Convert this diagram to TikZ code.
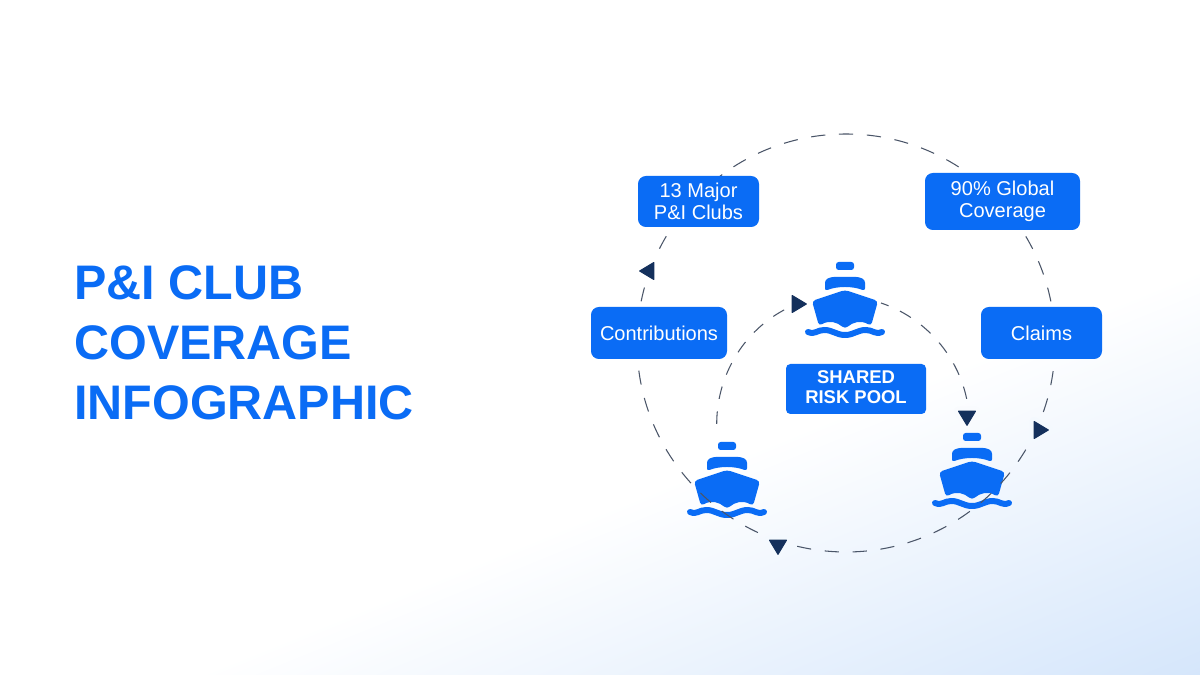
\documentclass[tikz,border=0pt]{standalone}
\usepackage{fontspec}
\usepackage{xcolor}
\setmainfont{Liberation Sans}
\usetikzlibrary{shapes.geometric}
\definecolor{clubblue}{HTML}{0A6CF5}
\definecolor{tipnavy}{HTML}{14305C}
\definecolor{ringgrey}{HTML}{4A5568}
\definecolor{washblue}{HTML}{D5E6FB}
\tikzset{
  clubbox/.style={fill=clubblue,text=white,rounded corners=4.5pt,align=center,inner sep=0pt,
    font=\fontsize{11.4}{12.2}\selectfont},
  poolbox/.style={fill=clubblue,text=white,rounded corners=2.5pt,align=center,inner sep=0pt,text depth=2.2pt,
    minimum width=140*0.02cm,minimum height=50*0.02cm,font=\fontsize{10.5}{11.6}\selectfont\bfseries},
  titletext/.style={text=clubblue,align=left,anchor=west,inner sep=0pt,
    font=\fontsize{27.6}{34.2}\selectfont\bfseries},
  ringline/.style={draw=ringgrey,line width=0.6pt,dash pattern=on 8.08pt off 7.82pt,dash phase=8pt},
  innerline/.style={draw=ringgrey,line width=0.6pt,dash pattern=on 7.2pt off 7.2pt},
  ringtip/.style={isosceles triangle,isosceles triangle apex angle=62,fill=tipnavy,draw=tipnavy,
    line width=0.6pt,line join=round,inner sep=0pt,minimum height=14*0.02cm,minimum width=17*0.02cm,
    preaction={draw=#1,line width=5pt}},
  ringtip/.default=white,
  ship/.pic={
    \fill[clubblue,rounded corners=1.5pt] (-9,30) -- (-9,38) -- (9,38) -- (9,30) -- cycle;
    \fill[clubblue,rounded corners=1.5pt] (-20,9) -- (-20,20) -- (-14,23) -- (14,23) -- (20,20) -- (20,9)
      .. controls (8,14) and (-8,14) .. cycle;
    \fill[clubblue,rounded corners=2pt] (0,10) -- (33,-1) -- (26,-26)
      .. controls (16,-20) and (8,-22) .. (0,-29) .. controls (-8,-22) and (-16,-20) .. (-26,-26)
      -- (-33,-1) -- cycle;
    \draw[clubblue,line width=3.4pt,line cap=round] (-37,-32)
      .. controls (-30,-35) and (-28,-30) .. (-21,-30)
      .. controls (-12,-30) and (-9,-35) .. (0,-35)
      .. controls (9,-35) and (12,-30) .. (21,-30)
      .. controls (28,-30) and (30,-35) .. (37,-32);
  }
}

\begin{document}
\begin{tikzpicture}[x=0.02cm,y=0.02cm]
  \useasboundingbox (0,0) rectangle (1200,675);
  \begin{scope}
    \clip (0,0) rectangle (1200,675);
    \begin{scope}[transform canvas={rotate around={22:(600,337)}}]
      \shade[bottom color=washblue,top color=white,middle color=white]
        (-600,-200) rectangle (1800,554);
    \end{scope}
  \end{scope}
  \node[titletext] (title) at (74,332) {P\&I CLUB\\COVERAGE\\INFOGRAPHIC};

  \coordinate (hub) at (846,332);
  \coordinate (innerleft) at (716.7,251);
  \coordinate (innerarrow) at (797,371);
  \coordinate (innerright) at (969.3,251);
  \coordinate (innerend) at (881,372);
  \coordinate (shiptop) at (845,375);
  \coordinate (shipleft) at (727,195);
  \coordinate (shipright) at (972,204);

  \draw[innerline] (innerleft) to[out=90,in=201.5,looseness=0.93] (innerarrow);
  \draw[innerline] (innerright) to[out=90,in=-18.5,looseness=0.93] (innerend);
  \pic at (shiptop) {ship};
  \pic at (shipleft) {ship};
  \pic at (shipright) {ship};
  \draw[ringline] (hub) circle (209);

  \node[clubbox,minimum width=121*0.02cm,minimum height=51*0.02cm] (clubs) at (698.5,473.5) {13 Major\\P\&I Clubs};
  \node[clubbox,minimum width=155*0.02cm,minimum height=57*0.02cm] (coverage) at (1002.5,473.5) {90\% Global\\Coverage};
  \node[clubbox,minimum width=136*0.02cm,minimum height=52*0.02cm] (contrib) at (659,342) {Contributions};
  \node[clubbox,minimum width=121*0.02cm,minimum height=52*0.02cm] (claims) at (1041.5,342) {Claims};
  \node[poolbox] (pool) at (856,286) {SHARED\\RISK POOL};

  \node[ringtip,shape border rotate=180] (tipouterleft) at (649,404) {};
  \node[ringtip,shape border rotate=0] (tipinnertop) at (innerarrow) {};
  \node[ringtip={white!85!washblue},shape border rotate=-90] (tipinnerright) at (967,259) {};
  \node[ringtip={white!75!washblue},shape border rotate=0] (tipouterright) at (1039,245) {};
  \node[ringtip={white!75!washblue},shape border rotate=-85] (tipouterbottom) at (778,130) {};
\end{tikzpicture}
\end{document}
